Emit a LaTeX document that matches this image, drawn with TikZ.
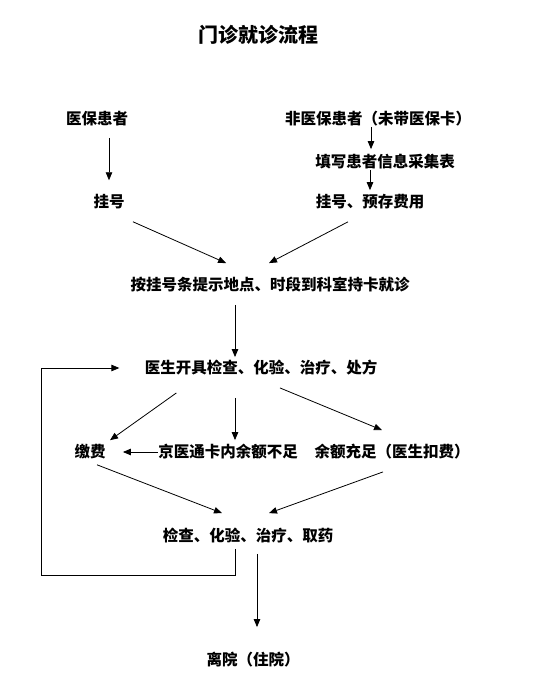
\documentclass[tikz,border=0pt]{standalone}
\usepackage{fontspec}
\newfontfamily\cjk{Noto Sans CJK SC}
\usetikzlibrary{arrows.meta}

\begin{document}
\begin{tikzpicture}[
  x=1pt, y=-1pt,
  ttl/.style={font=\cjk\bfseries\fontsize{20}{24}\selectfont, inner sep=0pt},
  txt/.style={font=\cjk\bfseries\fontsize{15.5}{18}\selectfont, inner sep=0pt},
  every path/.style={line width=0.8pt},
  >={Triangle[length=8pt,width=6.5pt]}]
  \useasboundingbox (0,0) rectangle (551,687);
  \node[ttl] (title) at (258,35) {门诊就诊流程};
  \node[txt] (ybhz) at (97,119) {医保患者};
  \node[txt] (fybhz) at (378,119) {非医保患者（未带医保卡）};
  \node[txt] (txb) at (385,162) {填写患者信息采集表};
  \node[txt] (gh1) at (109,202) {挂号};
  \node[txt] (gh2) at (370,202) {挂号、预存费用};
  \node[txt] (jz) at (270,285) {按挂号条提示地点、时段到科室持卡就诊};
  \node[txt] (ys) at (261,368) {医生开具检查、化验、治疗、处方};
  \node[txt] (jf) at (90,452) {缴费};
  \node[txt] (bz) at (228,452) {京医通卡内余额不足};
  \node[txt] (cz) at (392,452) {余额充足（医生扣费）};
  \node[txt] (jc) at (248,536) {检查、化验、治疗、取药};
  \node[txt] (ly) at (253,660) {离院（住院）};
  \coordinate (lx) at (41,575);
  \draw[->] ([xshift=12pt,yshift=-11pt]ybhz.south) -- ([yshift=14pt]gh1.north);
  \draw[->] ([xshift=-7pt]fybhz.south) -- ([xshift=-14pt,yshift=5pt]txb.north);
  \draw[->] (gh2.north |- txb.south) -- ([yshift=4pt]gh2.north);
  \draw[->] ([shift={(8,12)}]gh1.south east) -- ([shift={(96,-14)}]jz.north west);
  \draw[->] ([shift={(-22,12)}]gh2.south) -- ([shift={(-1,-14)}]jz.north);
  \draw[->] ([shift={(-35,12)}]jz.south) -- ([shift={(-26,-3)}]ys.north);
  \draw[->] ([shift={(-13,5)}]jc.south) |- (lx) |- ([xshift=-25pt]ys.west);
  \draw[->] ([shift={(32,17)}]ys.south west) -- ([shift={(20,-4)}]jf.north);
  \draw[->] ([shift={(-26,22)}]ys.south) -- ([shift={(7,-4)}]bz.north);
  \draw[->] ([shift={(19,12)}]ys.south) -- ([shift={(-10,-14)}]cz.north);
  \draw[->] (bz.west) -- ([xshift=17pt]jf.east);
  \draw[->] ([shift={(7,5)}]jf.south) -- ([shift={(-26,-15)}]jc.north);
  \draw[->] ([shift={(-9,12)}]cz.south) -- ([shift={(21,-15)}]jc.north);
  \draw[->] ([shift={(9,10)}]jc.south) -- ([shift={(4,-25)}]ly.north);
\end{tikzpicture}
\end{document}
